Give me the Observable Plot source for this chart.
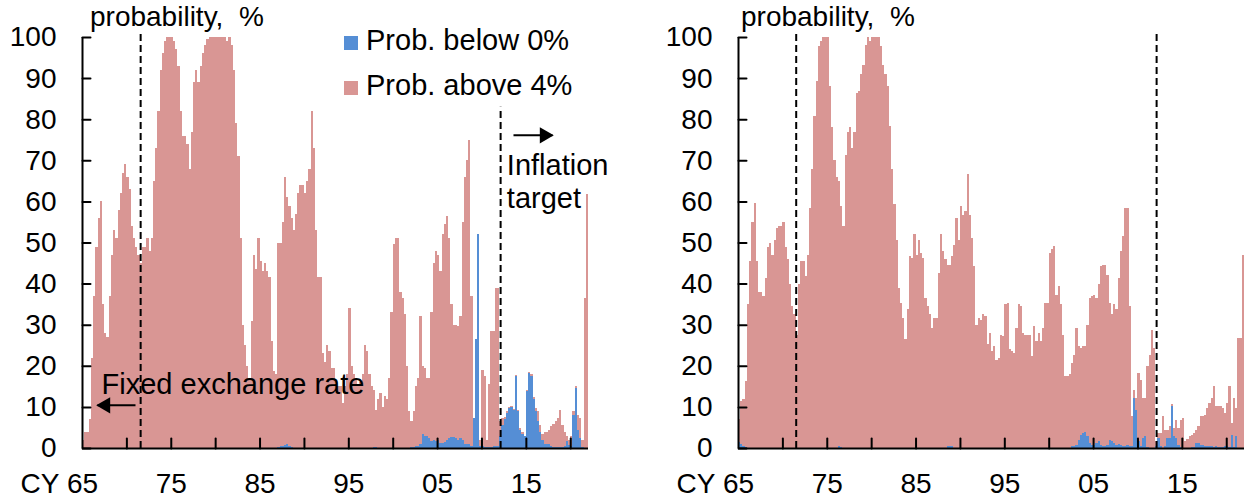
<!DOCTYPE html>
<html>
<head>
<meta charset="utf-8">
<script src="https://cdn.jsdelivr.net/npm/d3@7"></script>
<script src="https://cdn.jsdelivr.net/npm/@observablehq/plot@0.6"></script>
<style>
  html, body { margin: 0; padding: 0; background: #fff; }
  #chart { position: relative; width: 1244px; height: 504px; overflow: hidden;
           font-family: "Liberation Sans", Arial, sans-serif; color: #000; }
  .panel { position: absolute; top: 0; }
  .note { position: absolute; font-size: 28px; line-height: 28px; white-space: pre; }
  .leg { position: absolute; font-size: 29px; line-height: 29px; white-space: pre; }
  .sw { position: absolute; width: 14px; height: 14px; }
</style>
</head>
<body>
<div id="chart"></div>
<script>
// ---------- data (quarterly, 1965Q1 .. 2021Q4) ----------
const startYear = 1965;
const endYear = 2022;
const xTickYears = [1970, 1975, 1980, 1985, 1990, 1995, 2000, 2005, 2010, 2015, 2020];
const xLabelYears = [1965, 1975, 1985, 1995, 2005, 2015];
const yTicks = [0, 10, 20, 30, 40, 50, 60, 70, 80, 90, 100];
const seriesNames = ["Prob. below 0%", "Prob. above 4%"];
const seriesColors = ["#558ed5", "#d99694"];
const axisTitle = "probability,\u00a0 %";

// left panel
const leftBelow = [
  0,0,0,0,0,0,0,0, 0,0,0,0,0,0,0,0, 0,0,0,0,0,0,0,0, 0,0,0,0,0,0,0,0,
  0,0,0,0,0,0,0,0, 0,0,0,0,0,0,0,0, 0,0,0,0,0,0,0,0, 0,0,0,0,0,0,0,0,
  0,0,0,0,0,0,0,0, 0,0,0,0,0,0,0,0, 0,0,0,0,0,0,0,0,
  0.3,0.5,0.5,0.8,1,0.6,0.3,0,
  0,0,0,0,0,0,0,0, 0,0,0,0,0,0,0,0, 0,0,0,0,0,0,0,0, 0,0,0,0,0,0,0,0,
  0,0,0,0.3,0.3,0,0,0,
  0,0,0,0,0,0,0,0,
  0,0,0,0,0.3,0.3,0.5,0.5,
  1,3.3,3,3,2.5,1.6,2,1.6,
  2,1.2,1.2,1.5,2,2.5,2.6,2.6,
  2.5,2,2.5,2,1,1,1,0.5,
  7.3,26.4,52,0.5,0.5,0.3,0.3,0.3,
  0.3,0.5,0.5,0.5,3,5.7,7,8.5,
  9.7,10,9.3,17.5,9,4.5,3.5,2.8,
  13.8,18.3,17.5,12,9,6.5,4,2,
  1,1,1,0.5,0.3,0.3,0.3,0.3,
  0.3,0.5,1.6,0.8,0.5,8,14.6,4.5,
  2.4,0.3,0,0
];
const leftAbove = [
  2,4,4,7,22,37,49,56,
  60,35,28,27,37,47,53,51,
  58,62,67,69,66,63,54,51,
  49,47,45,49,49,51,48,51,
  65,73,82,92,96,99,100,100,
  100,99,97,93,82,76,76,74,
  68,77,89,92,89,93,96,98,
  99.6,100,100,100,100,100,100,100,
  100,99,100,98,92,79,71,51,
  30,25,20,17,31,47,43.5,51,
  45.5,43,45,43,41.5,26,18.7,18,
  49.7,49.5,54.5,65.2,60,58.4,55.7,53,
  57,62,64,64,62,65,68,82,
  73,53,41.5,41.5,23,21,25,23.5,
  19.5,19.5,15,15,15,11,15,18,
  34,20,18,17,15,16,18,25,
  23.5,18,15,13.7,9,12,13.4,10,
  12.6,12,17,33,49.6,51,51,38,
  36.6,32.5,20,9,6.2,8.7,14.5,16.5,
  31,16.7,16.5,14,14.5,31.4,43,46.4,
  45,41.8,50.8,53,54.5,48.5,32.4,27.4,
  27.5,27.7,29.5,53,65,69,74,36.5,
  0,0,0,1.5,18.5,17.2,1.7,15.2,
  28.2,28,38.5,38.5,3.5,1.6,0.5,0.5,
  0.3,0.3,0.2,0.3,0.2,0.3,0.3,0.2,
  0.2,0.3,0.5,0.5,0.7,2.5,1.7,1.3,
  3,3,3.5,4.8,5.6,6.2,7,9,
  5.4,3.5,1.2,1.2,2.3,1,0.4,3.5,
  4.9,1.7,36.6,61.8
];

// right panel
const rightBelow = [
  1.5,1,0.5,0.3,0,0,0,0,
  0,0,0,0,0,0,0,0, 0,0,0,0,0,0,0,0, 0,0,0,0,0,0,0,0, 0,0,0,0,0,0,0,0,
  0,0,0,0,0,0.5,0.3,0,
  0,0,0,0,0,0,0,0, 0,0,0,0,0,0,0,0, 0,0,0,0,0,0,0,0, 0,0,0,0,0,0,0,0,
  0,0,0,0,0,0,0,0,
  0,0,0,0,0,0,0.5,0.5,
  0.5,0,0,0,0,0,0,0,
  0,0,0,0,0,0,0,0, 0,0,0,0,0,0,0,0, 0,0,0,0,0,0,0,0, 0,0,0,0,0,0,0,0,
  0,0,0,0,0,0,0,0,
  0,0,0,0,0,0,0.4,0.5,
  0.8,2,3.2,3.6,4,2.8,1.2,0.8,
  0.8,1.2,1.6,0.8,0.4,0.4,0.8,2,
  1.8,1.2,0.8,1,0.8,0.5,0.5,0.8,
  0.5,0.5,12.2,9.3,1.6,0.4,2.4,2.8,
  0.3,0,0,0,0.4,2.4,0.4,0,
  0.4,2.4,2.4,10.1,2.8,2.4,0.8,0.3,
  0,0,0,0,0.3,0.3,1.2,1.2,
  0.8,0.8,0.4,0.4,0.4,0.4,0.2,0.4,
  0.3,0.2,0.2,0.4,0.4,0.2,3.2,0.2,
  2.8,0,0,0
];
const rightAbove = [
  5.5,10.4,11.5,15.9,35,45.5,55,59.7,
  45.5,38,38,37,41.4,49,50,47,
  50.7,53.6,54,54,55,49,46,39.8,
  34.5,32.5,27.6,39.8,45.5,45.5,41.8,47,
  58.4,68,80.8,89.3,97.8,99,100,100,
  100,88,78,70,66,64.5,58.7,54,
  71.4,77,78,73,77,86.4,86.8,91,
  93.3,98,100,99,100,100,100,100,
  97.8,93.3,91,88,78.3,68,59.3,50.7,
  39,35.3,31.7,26.4,33.7,46.7,46.3,52,
  47,50.7,47.5,46.3,36.5,34.5,32.5,29.2,
  31.7,31.7,42.6,52,47.9,45.9,44.1,44.1,
  46.2,49.5,56,50.7,58.8,56.8,57.6,66.6,
  56.8,51.1,44.2,30,31.7,31.2,32.5,32,
  25.2,28,23.5,24.8,21.5,22,27.6,27.2,
  35,35.3,24,23.5,23.1,29.2,35,34.5,
  28,27.6,27.6,27.6,22.3,29.6,26,28,
  26,29.2,35.3,35.3,47.5,48.3,49.1,37.3,
  39.4,35,27.6,17.5,17.5,17.9,20.3,22.2,
  28.4,22.8,21.2,21.2,20.8,27.2,35.3,36.1,
  36.5,35.3,38.2,43.4,44.2,44.2,41.4,33.3,
  30.7,33.8,32.9,40.4,47.1,51,57.9,57.6,
  34,7.2,2,2.9,16.7,16.2,9.8,9.4,
  19.6,22.7,28.8,24.4,1.2,1.2,3.2,7.7,
  4.1,2.1,2.9,0.5,2.1,4.5,4.1,6.6,
  7.3,1.6,2.2,2.8,2.9,3.3,3.3,4.1,
  6.9,6.9,7.7,9.3,10.6,11.8,14.8,9.7,
  9.8,9.9,9.5,8.1,10.6,14.8,2.9,12,
  6.9,26.8,26.8,47
];

// regime breaks (dashed lines) and annotations
const leftBreaks = [{year: 1971.55, top: 101}, {year: 2012.1, top: 83}];
const rightBreaks = [{year: 1971.5, top: 101}, {year: 2012.1, top: 101}];
const leftNotes = [
  {x: 1967.15, y: 18.95, text: "Fixed exchange rate"},
  {x: 2012.8, y: 72.3, text: "Inflation\ntarget"}
];
const leftArrowsL = [{x1: 1970.97, x2: 1966.69, y: 10.5}];
const leftArrowsR = [{x1: 2013.55, x2: 2017.94, y: 76.2}];

// ---------- drawing ----------
const FONT = '"Liberation Sans", Arial, sans-serif';
// plain tick stroke (a vector shape with no arrowhead)
const tickShape = {draw(context, l) { context.moveTo(0, 0); context.lineTo(0, -l); }};

function rowsOf(below, above) {
  return above.map((a, i) => ({
    t1: startYear + i / 4,
    t2: startYear + (i + 1) / 4,
    below: below[i],
    top: below[i] + a
  }));
}

function panel(below, above, breaks, extra, marginLeft, marginRight) {
  const rows = rowsOf(below, above);
  return Plot.plot({
    width: 622,
    height: 504,
    marginTop: 37,
    marginBottom: 56,
    marginLeft,
    marginRight,
    style: {fontFamily: FONT, fontSize: "28px", color: "#000", background: "transparent", overflow: "visible"},
    x: {domain: [startYear, endYear]},
    y: {domain: [0, 100]},
    marks: [
      Plot.rect(rows, {x1: "t1", x2: "t2", y1: 0, y2: "below", fill: seriesColors[0], shapeRendering: "crispEdges"}),
      Plot.rect(rows, {x1: "t1", x2: "t2", y1: "below", y2: "top", fill: seriesColors[1], shapeRendering: "crispEdges"}),
      Plot.ruleX(breaks, {x: "year", y1: 0, y2: "top", stroke: "#000", strokeWidth: 2, strokeDasharray: "7,4"}),
      Plot.ruleY([0], {stroke: "#000", strokeWidth: 2}),
      Plot.ruleX([startYear], {y1: 0, y2: 100, stroke: "#000", strokeWidth: 2}),
      // inward tick marks
      Plot.vector(yTicks, {y: d => d, frameAnchor: "left", rotate: 90, length: 8, anchor: "start",
                           shape: tickShape, stroke: "#000", strokeWidth: 2}),
      Plot.vector(xTickYears, {x: d => d, frameAnchor: "bottom", rotate: 0, length: 10, anchor: "start",
                               shape: tickShape, stroke: "#000", strokeWidth: 2}),
      // tick labels
      Plot.axisY({ticks: yTicks, tickSize: 0, tickPadding: 26, label: null}),
      Plot.axisX({ticks: xLabelYears, tickSize: 0, tickPadding: 25, label: null,
                  tickFormat: d => String(d % 100).padStart(2, "0")}),
      Plot.text([startYear], {x: d => d, frameAnchor: "bottom", text: () => "CY", textAnchor: "end",
                              dx: -23, dy: 25, lineAnchor: "top"}),
      ...extra
    ]
  });
}

const leftExtra = [
  Plot.text(leftNotes, {x: "x", y: "y", text: "text", textAnchor: "start", lineAnchor: "top",
                        lineHeight: 1.14, fontSize: 29, fill: "#000"}),
  Plot.link(leftArrowsL, {x1: "x1", x2: "x2", y1: "y", y2: "y", stroke: "#000", strokeWidth: 2}),
  Plot.dot(leftArrowsL, {x: "x2", y: "y", symbol: "triangle", r: 6, fill: "#000", rotate: -90, dx: 8}),
  Plot.link(leftArrowsR, {x1: "x1", x2: "x2", y1: "y", y2: "y", stroke: "#000", strokeWidth: 2}),
  Plot.dot(leftArrowsR, {x: "x2", y: "y", symbol: "triangle", r: 6, fill: "#000", rotate: 90, dx: -8})
];

const chart = document.getElementById("chart");

const left = panel(leftBelow, leftAbove, leftBreaks, leftExtra, 82, 34);
left.classList.add("panel");
left.style.left = "0px";
chart.appendChild(left);

const right = panel(rightBelow, rightAbove, rightBreaks, [], 116, 0);
right.classList.add("panel");
right.style.left = "622px";
chart.appendChild(right);

// axis titles
[[90, 3], [741, 3]].forEach(([l, t]) => {
  const d = document.createElement("div");
  d.className = "note";
  d.style.left = l + "px";
  d.style.top = t + "px";
  d.textContent = axisTitle;
  chart.appendChild(d);
});

// legend (left panel)
[[36, 25.5], [81, 71]].forEach(([swTop, txtTop], i) => {
  const s = document.createElement("div");
  s.className = "sw";
  s.style.left = "344px";
  s.style.top = swTop + "px";
  s.style.background = seriesColors[i];
  chart.appendChild(s);
  const t = document.createElement("div");
  t.className = "leg";
  t.style.left = "366px";
  t.style.top = txtTop + "px";
  t.textContent = seriesNames[i];
  chart.appendChild(t);
});
</script>
</body>
</html>
